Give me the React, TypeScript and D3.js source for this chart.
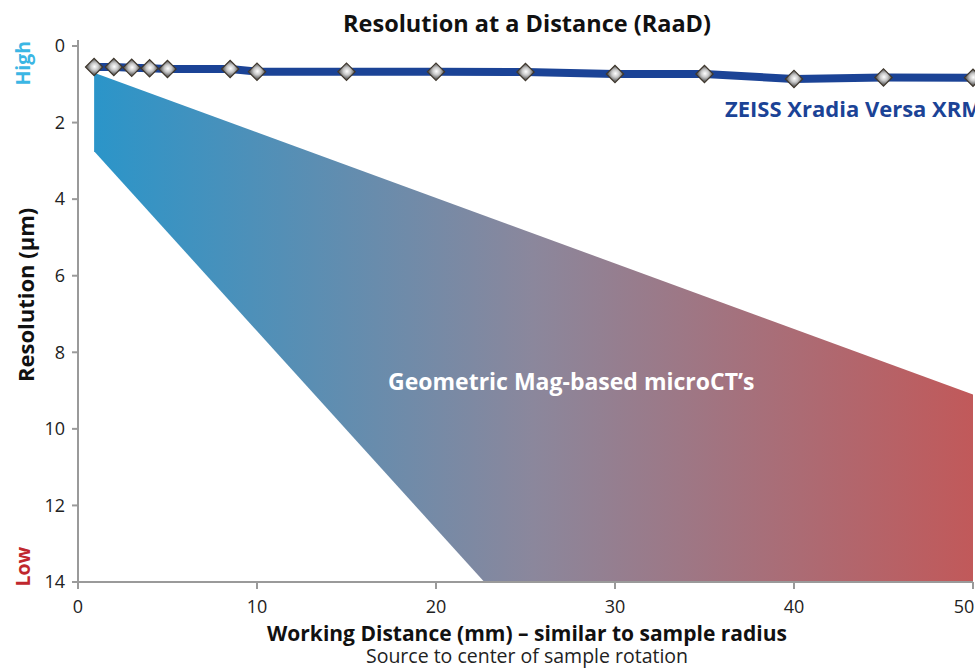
import React from "react";
import * as d3 from "d3";

// Versa XRM line (working distance mm, resolution µm)
const versaDistance = [0.9, 2, 3, 4, 5, 8.5, 10, 15, 20, 25, 30, 35, 40, 45, 50];
const versaResolution = [0.55, 0.55, 0.57, 0.58, 0.6, 0.6, 0.67, 0.67, 0.67, 0.68, 0.73, 0.73, 0.86, 0.82, 0.83];

// geometric mag band outline
const bandUpper: [number, number][] = [[0.9, 0.7], [50, 9.1]];
const bandLower: [number, number][] = [[0.9, 2.75], [22.7, 14], [50, 14]];

const xTicks = [0, 10, 20, 30, 40, 50];
const yTicks = [0, 2, 4, 6, 8, 10, 12, 14];

const W = 975;
const H = 669;
const margin = { top: 46, left: 78, right: 2, bottom: 87 };
const FONT = "'Open Sans', 'Noto Sans', sans-serif";

export default function App() {
  const xScale = d3.scaleLinear().domain([0, 50]).range([margin.left, W - margin.right]);
  const yScale = d3.scaleLinear().domain([0, 14]).range([margin.top, H - margin.bottom]);

  const versa = versaDistance.map((d, i) => ({ x: d, y: versaResolution[i] }));

  const line = d3
    .line<{ x: number; y: number }>()
    .x((d) => xScale(d.x))
    .y((d) => yScale(d.y));

  const poly = d3
    .line<[number, number]>()
    .x((d) => xScale(d[0]))
    .y((d) => yScale(d[1]));
  const bandPath = poly(bandUpper.concat(bandLower.slice().reverse())) + "Z";

  const diamond = d3.symbol().type(d3.symbolSquare).size(150)();

  const axisColor = "#9a9a9a";
  const x0 = xScale(0);
  const y14 = yScale(14);

  return (
    <svg
      width={W}
      height={H}
      style={{ position: "absolute", left: 0, top: 0, background: "#fff" }}
      fontFamily={FONT}
    >
      <defs>
        <linearGradient id="band" gradientUnits="userSpaceOnUse" x1={xScale(0.9)} x2={xScale(50)} y1={0} y2={0}>
          <stop offset="0%" stopColor="#2b95c9" />
          <stop offset="50%" stopColor="#8b879c" />
          <stop offset="100%" stopColor="#c1595a" />
        </linearGradient>
        <radialGradient id="knob" cx="50%" cy="45%" r="60%">
          <stop offset="0%" stopColor="#ffffff" />
          <stop offset="50%" stopColor="#c9c9c9" />
          <stop offset="100%" stopColor="#666666" />
        </radialGradient>
      </defs>

      <text x={527} y={32} textAnchor="middle" fontSize={23.5} fontWeight="bold" fill="#111">
        Resolution at a Distance (RaaD)
      </text>

      <path d={bandPath} fill="url(#band)" />

      {/* axes */}
      <line x1={x0} x2={x0} y1={40} y2={y14 + 5} stroke={axisColor} strokeWidth={2} />
      <line x1={x0} x2={xScale(50)} y1={y14} y2={y14} stroke={axisColor} strokeWidth={2} />
      {yTicks.map((t) => (
        <g key={"y" + t}>
          <line x1={x0 - 6} x2={x0} y1={yScale(t)} y2={yScale(t)} stroke={axisColor} strokeWidth={2} />
          <text x={x0 - 13} y={yScale(t)} dy="0.35em" textAnchor="end" fontSize={18} fill="#222">
            {t}
          </text>
        </g>
      ))}
      {xTicks.map((t) => (
        <g key={"x" + t}>
          <line x1={xScale(t)} x2={xScale(t)} y1={y14} y2={y14 + 7} stroke={axisColor} strokeWidth={2} />
          <text x={Math.min(xScale(t), W - 11)} y={y14 + 31} textAnchor="middle" fontSize={18} fill="#222">
            {t}
          </text>
        </g>
      ))}

      <text transform={`translate(34,${yScale(6.5)}) rotate(-90)`} textAnchor="middle" fontSize={22} fontWeight="bold" fill="#111">
        Resolution (µm)
      </text>
      <text transform={`translate(30,${yScale(0.45)}) rotate(-90)`} textAnchor="middle" fontSize={19.5} fontWeight="bold" fill="#3bb6e4">
        High
      </text>
      <text transform={`translate(30,${yScale(13.6)}) rotate(-90)`} textAnchor="middle" fontSize={19.5} fontWeight="bold" fill="#c0272d">
        Low
      </text>

      <text x={527} y={641} textAnchor="middle" fontSize={21} fontWeight="bold" fill="#111">
        Working Distance (mm) – similar to sample radius
      </text>
      <text x={527} y={663} textAnchor="middle" fontSize={19.5} fill="#222">
        Source to center of sample rotation
      </text>

      {/* Versa line */}
      <path d={line(versa) ?? ""} fill="none" stroke="#1b4396" strokeWidth={8} strokeLinejoin="round" />
      {versa.map((d, i) => (
        <path
          key={i}
          d={diamond ?? ""}
          transform={`translate(${xScale(d.x)},${yScale(d.y)}) rotate(45)`}
          fill="url(#knob)"
          stroke="#3f372d"
          strokeWidth={1.2}
        />
      ))}

      <text x={725} y={117} fontSize={22} fontWeight="bold" fill="#1b4396">
        ZEISS Xradia Versa XRM
      </text>
      <text x={388} y={390} fontSize={23} fontWeight="bold" fill="#ffffff">
        Geometric Mag-based microCT’s
      </text>
    </svg>
  );
}
